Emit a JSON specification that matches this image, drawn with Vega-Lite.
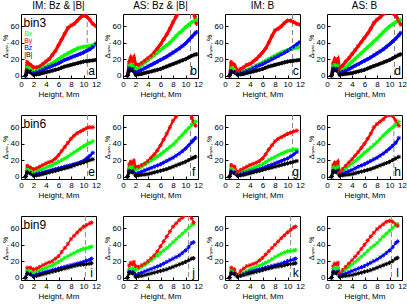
{
 "$schema": "https://vega.github.io/schema/vega-lite/v6.json",
 "padding": {"left": 0, "top": 1, "right": 0, "bottom": 0},
 "background": "white",
 "config": {
  "font": "Liberation Sans",
  "view": {"stroke": "black", "strokeWidth": 1},
  "axis": {"grid": false, "domain": false, "tickColor": "black", "labelColor": "black", "titleColor": "black", "labelFontSize": 8, "titleFontSize": 8, "titleFontWeight": "normal", "tickSize": -3, "labelPadding": 5, "titlePadding": 2, "labelOverlap": false, "labelFlush": false, "labelBound": false},
  "header": {"labelFontSize": 10, "labelColor": "black", "labelPadding": 3}
 },
 "datasets": {"d": [
  {"r":3,"c":1,"h":0.75,"bx":0,"by":0,"bz":0,"b":0},
  {"r":3,"c":1,"h":1,"bx":10,"by":16,"bz":6,"b":5},
  {"r":3,"c":1,"h":1.5,"bx":8,"by":13,"bz":5,"b":4},
  {"r":3,"c":1,"h":2,"bx":5,"by":10,"bz":3,"b":1},
  {"r":3,"c":1,"h":2.5,"bx":6,"by":10,"bz":4,"b":1.5},
  {"r":3,"c":1,"h":3,"bx":7,"by":11,"bz":5,"b":2},
  {"r":3,"c":1,"h":3.5,"bx":9,"by":14,"bz":7,"b":3},
  {"r":3,"c":1,"h":4,"bx":11,"by":17,"bz":9,"b":4},
  {"r":3,"c":1,"h":4.5,"bx":13,"by":20,"bz":10.5,"b":5},
  {"r":3,"c":1,"h":5,"bx":15,"by":25,"bz":12,"b":6},
  {"r":3,"c":1,"h":5.5,"bx":17.5,"by":30,"bz":13.5,"b":7},
  {"r":3,"c":1,"h":6,"bx":20,"by":37,"bz":15,"b":8},
  {"r":3,"c":1,"h":6.5,"bx":22.5,"by":44,"bz":17,"b":9.5},
  {"r":3,"c":1,"h":7,"bx":25,"by":51,"bz":19,"b":11},
  {"r":3,"c":1,"h":7.5,"bx":27,"by":58,"bz":20.5,"b":12},
  {"r":3,"c":1,"h":8,"bx":29,"by":61,"bz":22,"b":13},
  {"r":3,"c":1,"h":8.5,"bx":31,"by":63,"bz":23.5,"b":14},
  {"r":3,"c":1,"h":9,"bx":33,"by":67,"bz":25,"b":15},
  {"r":3,"c":1,"h":9.5,"bx":34,"by":71,"bz":26.5,"b":16},
  {"r":3,"c":1,"h":10,"bx":35,"by":73,"bz":28,"b":17},
  {"r":3,"c":1,"h":10.5,"bx":35.5,"by":72,"bz":30,"b":17.5},
  {"r":3,"c":1,"h":11,"bx":36,"by":68,"bz":32,"b":18},
  {"r":3,"c":1,"h":11.5,"bx":37,"by":63,"bz":35,"b":18.5},
  {"r":3,"c":1,"h":12,"bx":38,"by":60,"bz":39,"b":19},

  {"r":3,"c":2,"h":0.75,"bx":0,"by":0,"bz":0,"b":0},
  {"r":3,"c":2,"h":1,"bx":12,"by":17,"bz":9,"b":6},
  {"r":3,"c":2,"h":1.25,"bx":13,"by":22,"bz":9,"b":7},
  {"r":3,"c":2,"h":1.5,"bx":11,"by":18,"bz":8,"b":6},
  {"r":3,"c":2,"h":1.75,"bx":12,"by":22,"bz":8,"b":6},
  {"r":3,"c":2,"h":2,"bx":8,"by":14,"bz":4,"b":1},
  {"r":3,"c":2,"h":2.5,"bx":10,"by":13,"bz":5,"b":1.5},
  {"r":3,"c":2,"h":3,"bx":13,"by":15,"bz":7,"b":2},
  {"r":3,"c":2,"h":3.5,"bx":16,"by":18,"bz":9,"b":3},
  {"r":3,"c":2,"h":4,"bx":19,"by":21,"bz":11,"b":4},
  {"r":3,"c":2,"h":4.5,"bx":22,"by":24,"bz":13,"b":5},
  {"r":3,"c":2,"h":5,"bx":25,"by":28,"bz":15,"b":6},
  {"r":3,"c":2,"h":5.5,"bx":28,"by":33,"bz":17,"b":7},
  {"r":3,"c":2,"h":6,"bx":31,"by":38,"bz":19,"b":8},
  {"r":3,"c":2,"h":6.5,"bx":34,"by":44,"bz":21,"b":9.5},
  {"r":3,"c":2,"h":7,"bx":37,"by":50,"bz":23,"b":11},
  {"r":3,"c":2,"h":7.5,"bx":40,"by":57,"bz":25.5,"b":12.5},
  {"r":3,"c":2,"h":8,"bx":44,"by":65,"bz":28,"b":14},
  {"r":3,"c":2,"h":8.5,"bx":48,"by":72,"bz":30.5,"b":15.5},
  {"r":3,"c":2,"h":9,"bx":52,"by":78,"bz":33,"b":17},
  {"r":3,"c":2,"h":9.5,"bx":55,"by":83,"bz":36,"b":18.5},
  {"r":3,"c":2,"h":10,"bx":59,"by":86,"bz":39,"b":20},
  {"r":3,"c":2,"h":10.5,"bx":62,"by":85,"bz":43,"b":22},
  {"r":3,"c":2,"h":11,"bx":65,"by":82,"bz":47,"b":24},
  {"r":3,"c":2,"h":11.5,"bx":67,"by":72,"bz":51,"b":25.5},
  {"r":3,"c":2,"h":11.75,"bx":68,"by":63,"bz":53,"b":26},

  {"r":3,"c":3,"h":0.75,"bx":0,"by":0,"bz":0,"b":0},
  {"r":3,"c":3,"h":1,"bx":9,"by":16,"bz":5,"b":5},
  {"r":3,"c":3,"h":1.5,"bx":7,"by":13,"bz":4,"b":4},
  {"r":3,"c":3,"h":2,"bx":3,"by":5,"bz":2,"b":1},
  {"r":3,"c":3,"h":2.5,"bx":4,"by":8,"bz":3,"b":1.5},
  {"r":3,"c":3,"h":3,"bx":5,"by":10,"bz":4,"b":2},
  {"r":3,"c":3,"h":3.5,"bx":6.5,"by":13,"bz":5.5,"b":3},
  {"r":3,"c":3,"h":4,"bx":8,"by":14,"bz":7,"b":4},
  {"r":3,"c":3,"h":4.5,"bx":10,"by":17,"bz":9,"b":5},
  {"r":3,"c":3,"h":5,"bx":12,"by":20,"bz":11,"b":6},
  {"r":3,"c":3,"h":5.5,"bx":14,"by":24,"bz":12.5,"b":7},
  {"r":3,"c":3,"h":6,"bx":16,"by":28,"bz":14,"b":8},
  {"r":3,"c":3,"h":6.5,"bx":18,"by":33,"bz":16,"b":9.5},
  {"r":3,"c":3,"h":7,"bx":20,"by":40,"bz":18,"b":11},
  {"r":3,"c":3,"h":7.5,"bx":22,"by":48,"bz":20,"b":12},
  {"r":3,"c":3,"h":8,"bx":24,"by":55,"bz":22,"b":13},
  {"r":3,"c":3,"h":8.5,"bx":26,"by":57,"bz":24,"b":14},
  {"r":3,"c":3,"h":9,"bx":28,"by":60,"bz":26,"b":15},
  {"r":3,"c":3,"h":9.5,"bx":29.5,"by":64,"bz":28,"b":16},
  {"r":3,"c":3,"h":10,"bx":31,"by":67,"bz":30,"b":17},
  {"r":3,"c":3,"h":10.5,"bx":32,"by":67,"bz":32.5,"b":17.5},
  {"r":3,"c":3,"h":11,"bx":33,"by":65,"bz":35,"b":18},
  {"r":3,"c":3,"h":11.5,"bx":34,"by":63,"bz":38,"b":18.5},
  {"r":3,"c":3,"h":12,"bx":35,"by":62,"bz":41,"b":19},

  {"r":3,"c":4,"h":0.75,"bx":0,"by":0,"bz":0,"b":0},
  {"r":3,"c":4,"h":1,"bx":12,"by":15,"bz":8,"b":7},
  {"r":3,"c":4,"h":1.25,"bx":13,"by":20,"bz":9,"b":7},
  {"r":3,"c":4,"h":1.5,"bx":11,"by":17,"bz":8,"b":6},
  {"r":3,"c":4,"h":1.75,"bx":12,"by":20,"bz":8,"b":6},
  {"r":3,"c":4,"h":2,"bx":4,"by":8,"bz":3,"b":1},
  {"r":3,"c":4,"h":2.5,"bx":7,"by":12,"bz":4.5,"b":1.5},
  {"r":3,"c":4,"h":3,"bx":10,"by":17,"bz":6,"b":2},
  {"r":3,"c":4,"h":3.5,"bx":13.5,"by":21,"bz":8,"b":2.5},
  {"r":3,"c":4,"h":4,"bx":17,"by":26,"bz":10,"b":3},
  {"r":3,"c":4,"h":4.5,"bx":20.5,"by":31,"bz":12,"b":4},
  {"r":3,"c":4,"h":5,"bx":24,"by":36,"bz":14,"b":5},
  {"r":3,"c":4,"h":5.5,"bx":27.5,"by":41,"bz":16,"b":6},
  {"r":3,"c":4,"h":6,"bx":31,"by":46,"bz":18,"b":7},
  {"r":3,"c":4,"h":6.5,"bx":34.5,"by":51,"bz":20,"b":8.5},
  {"r":3,"c":4,"h":7,"bx":38,"by":57,"bz":22,"b":10},
  {"r":3,"c":4,"h":7.5,"bx":41.5,"by":64,"bz":24.5,"b":11.5},
  {"r":3,"c":4,"h":8,"bx":45,"by":68,"bz":27,"b":13},
  {"r":3,"c":4,"h":8.5,"bx":49,"by":71,"bz":29.5,"b":14.5},
  {"r":3,"c":4,"h":9,"bx":53,"by":75,"bz":32,"b":16},
  {"r":3,"c":4,"h":9.5,"bx":56.5,"by":77,"bz":35,"b":17.5},
  {"r":3,"c":4,"h":10,"bx":60,"by":78,"bz":38,"b":19},
  {"r":3,"c":4,"h":10.5,"bx":62.5,"by":76,"bz":41.5,"b":21},
  {"r":3,"c":4,"h":11,"bx":65,"by":73,"bz":45,"b":23},
  {"r":3,"c":4,"h":11.5,"bx":67,"by":67,"bz":49,"b":25},
  {"r":3,"c":4,"h":11.8,"bx":68,"by":62,"bz":52,"b":26},

  {"r":6,"c":1,"h":0.75,"bx":0,"by":0,"bz":0,"b":0},
  {"r":6,"c":1,"h":1,"bx":9,"by":13,"bz":5,"b":5},
  {"r":6,"c":1,"h":1.5,"bx":8,"by":11,"bz":4,"b":4},
  {"r":6,"c":1,"h":2,"bx":5,"by":9,"bz":2,"b":1},
  {"r":6,"c":1,"h":2.5,"bx":6.5,"by":10,"bz":3,"b":1.5},
  {"r":6,"c":1,"h":3,"bx":8,"by":12,"bz":4,"b":2},
  {"r":6,"c":1,"h":3.5,"bx":9.5,"by":14,"bz":5,"b":3},
  {"r":6,"c":1,"h":4,"bx":11,"by":16,"bz":6,"b":4},
  {"r":6,"c":1,"h":4.5,"bx":12.5,"by":17.5,"bz":7,"b":5},
  {"r":6,"c":1,"h":5,"bx":14,"by":19,"bz":8,"b":6},
  {"r":6,"c":1,"h":5.5,"bx":16,"by":22,"bz":9,"b":7},
  {"r":6,"c":1,"h":6,"bx":18,"by":26,"bz":10,"b":8},
  {"r":6,"c":1,"h":6.5,"bx":20,"by":31,"bz":11,"b":9},
  {"r":6,"c":1,"h":7,"bx":22,"by":36,"bz":12,"b":10},
  {"r":6,"c":1,"h":7.5,"bx":24.5,"by":41,"bz":13,"b":11},
  {"r":6,"c":1,"h":8,"bx":27,"by":46,"bz":14,"b":12},
  {"r":6,"c":1,"h":8.5,"bx":29.5,"by":50,"bz":15,"b":13.5},
  {"r":6,"c":1,"h":9,"bx":32,"by":53,"bz":16,"b":15},
  {"r":6,"c":1,"h":9.5,"bx":34.5,"by":55,"bz":17.5,"b":16},
  {"r":6,"c":1,"h":10,"bx":37,"by":57,"bz":19,"b":17},
  {"r":6,"c":1,"h":10.5,"bx":39,"by":59,"bz":22,"b":18.5},
  {"r":6,"c":1,"h":11,"bx":41,"by":60,"bz":25,"b":20},
  {"r":6,"c":1,"h":11.5,"bx":43,"by":60,"bz":29,"b":21},

  {"r":6,"c":2,"h":0.75,"bx":0,"by":0,"bz":0,"b":0},
  {"r":6,"c":2,"h":1,"bx":10,"by":15,"bz":7,"b":6},
  {"r":6,"c":2,"h":1.25,"bx":12,"by":18,"bz":7,"b":6},
  {"r":6,"c":2,"h":1.5,"bx":10,"by":15,"bz":6,"b":5},
  {"r":6,"c":2,"h":1.75,"bx":12,"by":19,"bz":7,"b":6},
  {"r":6,"c":2,"h":2,"bx":8,"by":12,"bz":3,"b":1},
  {"r":6,"c":2,"h":2.5,"bx":10,"by":12,"bz":4.5,"b":1.5},
  {"r":6,"c":2,"h":3,"bx":12,"by":14,"bz":6,"b":2},
  {"r":6,"c":2,"h":3.5,"bx":14.5,"by":16,"bz":7.5,"b":2.5},
  {"r":6,"c":2,"h":4,"bx":17,"by":19,"bz":9,"b":3},
  {"r":6,"c":2,"h":4.5,"bx":19.5,"by":23,"bz":10.5,"b":4},
  {"r":6,"c":2,"h":5,"bx":22,"by":27,"bz":12,"b":5},
  {"r":6,"c":2,"h":5.5,"bx":24.5,"by":32,"bz":13.5,"b":6},
  {"r":6,"c":2,"h":6,"bx":27,"by":38,"bz":15,"b":7},
  {"r":6,"c":2,"h":6.5,"bx":30,"by":45,"bz":17,"b":8},
  {"r":6,"c":2,"h":7,"bx":33,"by":52,"bz":19,"b":9},
  {"r":6,"c":2,"h":7.5,"bx":36,"by":60,"bz":21,"b":10.5},
  {"r":6,"c":2,"h":8,"bx":39,"by":68,"bz":23,"b":12},
  {"r":6,"c":2,"h":8.5,"bx":43,"by":73,"bz":25.5,"b":13.5},
  {"r":6,"c":2,"h":9,"bx":47,"by":78,"bz":28,"b":15},
  {"r":6,"c":2,"h":9.5,"bx":51,"by":82,"bz":31,"b":16.5},
  {"r":6,"c":2,"h":10,"bx":55,"by":85,"bz":34,"b":18},
  {"r":6,"c":2,"h":10.5,"bx":59,"by":82,"bz":38,"b":20},
  {"r":6,"c":2,"h":11,"bx":63,"by":72,"bz":42,"b":22},
  {"r":6,"c":2,"h":11.25,"bx":65,"by":67,"bz":44.5,"b":23},
  {"r":6,"c":2,"h":11.6,"bx":67,"by":62,"bz":47,"b":24},

  {"r":6,"c":3,"h":0.75,"bx":0,"by":0,"bz":0,"b":0},
  {"r":6,"c":3,"h":1,"bx":10,"by":14,"bz":6,"b":5},
  {"r":6,"c":3,"h":1.5,"bx":8,"by":12,"bz":5,"b":4},
  {"r":6,"c":3,"h":2,"bx":3,"by":5,"bz":1,"b":1},
  {"r":6,"c":3,"h":2.5,"bx":4.5,"by":8,"bz":2.5,"b":1.5},
  {"r":6,"c":3,"h":3,"bx":6,"by":10,"bz":4,"b":2},
  {"r":6,"c":3,"h":3.5,"bx":7.5,"by":12,"bz":5,"b":3},
  {"r":6,"c":3,"h":4,"bx":9,"by":14,"bz":6,"b":4},
  {"r":6,"c":3,"h":4.5,"bx":10.5,"by":15.5,"bz":7,"b":5},
  {"r":6,"c":3,"h":5,"bx":12,"by":17,"bz":8,"b":6},
  {"r":6,"c":3,"h":5.5,"bx":13.5,"by":19,"bz":9,"b":7},
  {"r":6,"c":3,"h":6,"bx":15,"by":22,"bz":10,"b":8},
  {"r":6,"c":3,"h":6.5,"bx":17.5,"by":27,"bz":11.5,"b":9},
  {"r":6,"c":3,"h":7,"bx":20,"by":33,"bz":13,"b":10},
  {"r":6,"c":3,"h":7.5,"bx":22,"by":38,"bz":14.5,"b":11},
  {"r":6,"c":3,"h":8,"bx":24,"by":43,"bz":16,"b":12},
  {"r":6,"c":3,"h":8.5,"bx":26,"by":46,"bz":17.5,"b":13},
  {"r":6,"c":3,"h":9,"bx":28,"by":48,"bz":19,"b":14},
  {"r":6,"c":3,"h":9.5,"bx":29.5,"by":50,"bz":20.5,"b":15},
  {"r":6,"c":3,"h":10,"bx":31,"by":52,"bz":22,"b":16},
  {"r":6,"c":3,"h":10.5,"bx":32,"by":53.5,"bz":24.5,"b":17},
  {"r":6,"c":3,"h":11,"bx":33,"by":55,"bz":27,"b":18},
  {"r":6,"c":3,"h":11.5,"bx":33,"by":56,"bz":30,"b":19},

  {"r":6,"c":4,"h":0.75,"bx":0,"by":0,"bz":0,"b":0},
  {"r":6,"c":4,"h":1,"bx":11,"by":14,"bz":7,"b":6},
  {"r":6,"c":4,"h":1.25,"bx":12,"by":17,"bz":7,"b":6},
  {"r":6,"c":4,"h":1.5,"bx":10,"by":14,"bz":6,"b":5},
  {"r":6,"c":4,"h":1.75,"bx":12,"by":18,"bz":7,"b":6},
  {"r":6,"c":4,"h":2,"bx":4,"by":5,"bz":2,"b":1},
  {"r":6,"c":4,"h":2.5,"bx":7,"by":9,"bz":3.5,"b":1.5},
  {"r":6,"c":4,"h":3,"bx":10,"by":13,"bz":5,"b":2},
  {"r":6,"c":4,"h":3.5,"bx":13,"by":17,"bz":6.5,"b":2.5},
  {"r":6,"c":4,"h":4,"bx":16,"by":21,"bz":8,"b":3},
  {"r":6,"c":4,"h":4.5,"bx":19,"by":25.5,"bz":10,"b":4},
  {"r":6,"c":4,"h":5,"bx":22,"by":30,"bz":12,"b":5},
  {"r":6,"c":4,"h":5.5,"bx":25.5,"by":35,"bz":13.5,"b":6},
  {"r":6,"c":4,"h":6,"bx":29,"by":40,"bz":15,"b":7},
  {"r":6,"c":4,"h":6.5,"bx":32,"by":46,"bz":17,"b":8},
  {"r":6,"c":4,"h":7,"bx":35,"by":52,"bz":19,"b":9},
  {"r":6,"c":4,"h":7.5,"bx":38.5,"by":60,"bz":21,"b":10.5},
  {"r":6,"c":4,"h":8,"bx":42,"by":64,"bz":23,"b":12},
  {"r":6,"c":4,"h":8.5,"bx":46,"by":67,"bz":25.5,"b":13.5},
  {"r":6,"c":4,"h":9,"bx":50,"by":70,"bz":28,"b":15},
  {"r":6,"c":4,"h":9.5,"bx":53.5,"by":74,"bz":31,"b":16.5},
  {"r":6,"c":4,"h":10,"bx":57,"by":75,"bz":34,"b":18},
  {"r":6,"c":4,"h":10.5,"bx":60,"by":74,"bz":37.5,"b":20},
  {"r":6,"c":4,"h":11,"bx":63,"by":68,"bz":41,"b":22},
  {"r":6,"c":4,"h":11.5,"bx":67,"by":62,"bz":47,"b":24},

  {"r":9,"c":1,"h":0.75,"bx":0,"by":0,"bz":0,"b":0},
  {"r":9,"c":1,"h":1,"bx":9,"by":12,"bz":5,"b":5},
  {"r":9,"c":1,"h":1.5,"bx":8,"by":12,"bz":4,"b":4},
  {"r":9,"c":1,"h":2,"bx":6,"by":10,"bz":2,"b":1},
  {"r":9,"c":1,"h":2.5,"bx":7.5,"by":11,"bz":3.5,"b":2},
  {"r":9,"c":1,"h":3,"bx":9,"by":13,"bz":5,"b":3},
  {"r":9,"c":1,"h":3.5,"bx":10.5,"by":15,"bz":6,"b":4},
  {"r":9,"c":1,"h":4,"bx":12,"by":17,"bz":7,"b":5},
  {"r":9,"c":1,"h":4.5,"bx":13.5,"by":18.5,"bz":8,"b":6},
  {"r":9,"c":1,"h":5,"bx":15,"by":20,"bz":9,"b":7},
  {"r":9,"c":1,"h":5.5,"bx":17,"by":23,"bz":10,"b":8},
  {"r":9,"c":1,"h":6,"bx":19,"by":26,"bz":11,"b":9},
  {"r":9,"c":1,"h":6.5,"bx":21.5,"by":31,"bz":12,"b":10},
  {"r":9,"c":1,"h":7,"bx":24,"by":36,"bz":13,"b":11},
  {"r":9,"c":1,"h":7.5,"bx":26,"by":41,"bz":14,"b":12},
  {"r":9,"c":1,"h":8,"bx":28,"by":47,"bz":15,"b":13},
  {"r":9,"c":1,"h":8.5,"bx":30,"by":51,"bz":16,"b":14},
  {"r":9,"c":1,"h":9,"bx":32,"by":55,"bz":17,"b":15},
  {"r":9,"c":1,"h":9.5,"bx":33.5,"by":58.5,"bz":18,"b":15.5},
  {"r":9,"c":1,"h":10,"bx":35,"by":62,"bz":19,"b":16},
  {"r":9,"c":1,"h":10.5,"bx":36,"by":64,"bz":20.5,"b":16.5},
  {"r":9,"c":1,"h":11,"bx":37,"by":66,"bz":21.5,"b":17},
  {"r":9,"c":1,"h":11.3,"bx":37.5,"by":67,"bz":23,"b":17.5},

  {"r":9,"c":2,"h":0.75,"bx":0,"by":0,"bz":0,"b":0},
  {"r":9,"c":2,"h":1,"bx":10,"by":15,"bz":7,"b":6},
  {"r":9,"c":2,"h":1.25,"bx":11,"by":18,"bz":7,"b":6},
  {"r":9,"c":2,"h":1.5,"bx":10,"by":16,"bz":6,"b":5},
  {"r":9,"c":2,"h":1.75,"bx":11,"by":19,"bz":7,"b":6},
  {"r":9,"c":2,"h":2,"bx":9,"by":14,"bz":3,"b":1},
  {"r":9,"c":2,"h":2.5,"bx":11,"by":13,"bz":4.5,"b":1.5},
  {"r":9,"c":2,"h":3,"bx":13,"by":15,"bz":6,"b":2},
  {"r":9,"c":2,"h":3.5,"bx":15.5,"by":17,"bz":7.5,"b":3},
  {"r":9,"c":2,"h":4,"bx":18,"by":20,"bz":9,"b":4},
  {"r":9,"c":2,"h":4.5,"bx":21,"by":23.5,"bz":10.5,"b":5},
  {"r":9,"c":2,"h":5,"bx":24,"by":27,"bz":12,"b":6},
  {"r":9,"c":2,"h":5.5,"bx":27,"by":32,"bz":13.5,"b":7},
  {"r":9,"c":2,"h":6,"bx":30,"by":38,"bz":15,"b":8},
  {"r":9,"c":2,"h":6.5,"bx":33,"by":44,"bz":17,"b":9},
  {"r":9,"c":2,"h":7,"bx":36,"by":50,"bz":19,"b":10},
  {"r":9,"c":2,"h":7.5,"bx":39.5,"by":56,"bz":21,"b":11.5},
  {"r":9,"c":2,"h":8,"bx":43,"by":62,"bz":23,"b":13},
  {"r":9,"c":2,"h":8.5,"bx":46.5,"by":66,"bz":25,"b":14.5},
  {"r":9,"c":2,"h":9,"bx":50,"by":70,"bz":27,"b":16},
  {"r":9,"c":2,"h":9.5,"bx":53.5,"by":73,"bz":30,"b":17.5},
  {"r":9,"c":2,"h":10,"bx":57,"by":76,"bz":33,"b":19},
  {"r":9,"c":2,"h":10.5,"bx":60.5,"by":78,"bz":37,"b":21},
  {"r":9,"c":2,"h":11,"bx":64,"by":72,"bz":42,"b":23},
  {"r":9,"c":2,"h":11.3,"bx":65,"by":67,"bz":43,"b":23.5},

  {"r":9,"c":3,"h":0.75,"bx":0,"by":0,"bz":0,"b":0},
  {"r":9,"c":3,"h":1,"bx":9,"by":12,"bz":6,"b":5},
  {"r":9,"c":3,"h":1.5,"bx":7,"by":10,"bz":5,"b":4},
  {"r":9,"c":3,"h":2,"bx":2,"by":3,"bz":1,"b":1},
  {"r":9,"c":3,"h":2.5,"bx":4,"by":8,"bz":2.5,"b":2},
  {"r":9,"c":3,"h":3,"bx":6,"by":11,"bz":4,"b":3},
  {"r":9,"c":3,"h":3.5,"bx":8,"by":14,"bz":5.5,"b":4},
  {"r":9,"c":3,"h":4,"bx":10,"by":15,"bz":7,"b":5},
  {"r":9,"c":3,"h":4.5,"bx":11.5,"by":16.5,"bz":8,"b":6},
  {"r":9,"c":3,"h":5,"bx":13,"by":18,"bz":9,"b":7},
  {"r":9,"c":3,"h":5.5,"bx":14.5,"by":21,"bz":10,"b":8},
  {"r":9,"c":3,"h":6,"bx":16,"by":24,"bz":11,"b":9},
  {"r":9,"c":3,"h":6.5,"bx":18,"by":28,"bz":12,"b":10},
  {"r":9,"c":3,"h":7,"bx":20,"by":32,"bz":13,"b":11},
  {"r":9,"c":3,"h":7.5,"bx":22.5,"by":36,"bz":14,"b":12},
  {"r":9,"c":3,"h":8,"bx":25,"by":40,"bz":15,"b":13},
  {"r":9,"c":3,"h":8.5,"bx":27,"by":44,"bz":16,"b":13.5},
  {"r":9,"c":3,"h":9,"bx":29,"by":48,"bz":17,"b":14},
  {"r":9,"c":3,"h":9.5,"bx":30.5,"by":51.5,"bz":18.5,"b":15},
  {"r":9,"c":3,"h":10,"bx":32,"by":55,"bz":20,"b":16},
  {"r":9,"c":3,"h":10.5,"bx":32.5,"by":58,"bz":21,"b":16.5},
  {"r":9,"c":3,"h":11,"bx":33,"by":61,"bz":22,"b":17},
  {"r":9,"c":3,"h":11.3,"bx":33.5,"by":62,"bz":23,"b":17.5},

  {"r":9,"c":4,"h":0.75,"bx":0,"by":0,"bz":0,"b":0},
  {"r":9,"c":4,"h":1,"bx":11,"by":14,"bz":7,"b":6},
  {"r":9,"c":4,"h":1.25,"bx":12,"by":17,"bz":7,"b":6},
  {"r":9,"c":4,"h":1.5,"bx":10,"by":16,"bz":6,"b":5},
  {"r":9,"c":4,"h":1.75,"bx":12,"by":18,"bz":7,"b":6},
  {"r":9,"c":4,"h":2,"bx":4,"by":5,"bz":2,"b":1},
  {"r":9,"c":4,"h":2.5,"bx":7,"by":9,"bz":3.5,"b":1.5},
  {"r":9,"c":4,"h":3,"bx":10,"by":13,"bz":5,"b":2},
  {"r":9,"c":4,"h":3.5,"bx":13,"by":17,"bz":6.5,"b":2.5},
  {"r":9,"c":4,"h":4,"bx":16,"by":21,"bz":8,"b":3},
  {"r":9,"c":4,"h":4.5,"bx":19,"by":25.5,"bz":9.5,"b":4},
  {"r":9,"c":4,"h":5,"bx":22,"by":30,"bz":11,"b":5},
  {"r":9,"c":4,"h":5.5,"bx":25.5,"by":35,"bz":12.5,"b":6},
  {"r":9,"c":4,"h":6,"bx":29,"by":40,"bz":14,"b":7},
  {"r":9,"c":4,"h":6.5,"bx":32.5,"by":45,"bz":16,"b":8},
  {"r":9,"c":4,"h":7,"bx":36,"by":50,"bz":18,"b":9},
  {"r":9,"c":4,"h":7.5,"bx":39,"by":54.5,"bz":20,"b":10.5},
  {"r":9,"c":4,"h":8,"bx":42,"by":59,"bz":22,"b":12},
  {"r":9,"c":4,"h":8.5,"bx":46,"by":62,"bz":24.5,"b":13.5},
  {"r":9,"c":4,"h":9,"bx":50,"by":65,"bz":27,"b":15},
  {"r":9,"c":4,"h":9.5,"bx":53.5,"by":68,"bz":30,"b":16.5},
  {"r":9,"c":4,"h":10,"bx":57,"by":69,"bz":33,"b":18},
  {"r":9,"c":4,"h":10.5,"bx":60.5,"by":68,"bz":37,"b":20},
  {"r":9,"c":4,"h":11,"bx":64,"by":65,"bz":42,"b":23},
  {"r":9,"c":4,"h":11.3,"bx":65,"by":63,"bz":44,"b":24},

  {"r":3,"c":1,"k":"d","h":10.6},{"r":3,"c":2,"k":"d","h":10.8},{"r":3,"c":3,"k":"d","h":10.8},{"r":3,"c":4,"k":"d","h":10.8},
  {"r":6,"c":1,"k":"d","h":10.65},{"r":6,"c":2,"k":"d","h":10.8},{"r":6,"c":3,"k":"d","h":10.8},{"r":6,"c":4,"k":"d","h":10.7},
  {"r":9,"c":1,"k":"d","h":10.3},{"r":9,"c":2,"k":"d","h":10.5},{"r":9,"c":3,"k":"d","h":10.5},{"r":9,"c":4,"k":"d","h":10.3},
  {"r":3,"c":1,"k":"l","t":"a"},{"r":3,"c":2,"k":"l","t":"b"},{"r":3,"c":3,"k":"l","t":"c"},{"r":3,"c":4,"k":"l","t":"d"},
  {"r":6,"c":1,"k":"l","t":"e"},{"r":6,"c":2,"k":"l","t":"f"},{"r":6,"c":3,"k":"l","t":"g"},{"r":6,"c":4,"k":"l","t":"h"},
  {"r":9,"c":1,"k":"l","t":"i"},{"r":9,"c":2,"k":"l","t":"j"},{"r":9,"c":3,"k":"l","t":"k"},{"r":9,"c":4,"k":"l","t":"l"},
  {"r":3,"c":1,"k":"b","t":"bin3"},{"r":6,"c":1,"k":"b","t":"bin6"},{"r":9,"c":1,"k":"b","t":"bin9"},
  {"r":3,"c":1,"k":"g"}
 ]},
 "data": {"name": "d"},
 "facet": {
  "row": {"field": "r", "type": "ordinal", "header": null, "title": null},
  "column": {"field": "c", "type": "ordinal", "title": null, "header": {"labelExpr": "['IM: Bz & |B|','AS: Bz & |B|','IM: B','AS: B'][+datum.value-1]"}}
 },
 "spacing": {"row": 37, "column": 27},
 "bounds": "flush",
 "resolve": {"axis": {"x": "independent", "y": "independent"}},
 "spec": {
  "width": 75,
  "height": 64,
  "layer": [
   {
    "transform": [{"filter": "datum.k == 'd'"}],
    "mark": {"type": "rule", "color": "#888888", "strokeDash": [5, 3], "strokeWidth": 1},
    "encoding": {"x": {"field": "h", "type": "quantitative", "title": "Height, Mm", "scale": {"domain": [0, 12], "nice": false}, "axis": {"tickCount": 6, "labelOverlap": false}}}
   },
   {
    "transform": [{"filter": "!datum.k"}, {"fold": ["bx", "by", "bz", "b"], "as": ["s", "v"]}],
    "mark": {"type": "line", "clip": true},
    "encoding": {
     "x": {"field": "h", "type": "quantitative", "title": "Height, Mm", "scale": {"domain": [0, 12], "nice": false}, "axis": {"tickCount": 6, "labelOverlap": false}},
     "y": {"field": "v", "type": "quantitative", "title": "Δₘₐₓ, %", "scale": {"domain": [-3, 75], "nice": false}, "axis": {"tickCount": 4, "titleFontSize": 7, "labelOverlap": false}},
     "color": {"field": "s", "type": "nominal", "scale": {"domain": ["bx", "by", "bz", "b"], "range": ["#00ff00", "#ff0000", "#0000ff", "#000000"]}, "legend": null},
     "strokeWidth": {"field": "r", "type": "ordinal", "scale": {"domain": [3, 6, 9], "range": [3.2, 1.5, 1.5]}, "legend": null}
    }
   },
   {
    "transform": [{"filter": "!datum.k"}, {"fold": ["bx", "by", "bz", "b"], "as": ["s", "v"]}],
    "mark": {"type": "point", "clip": true, "filled": false, "opacity": 1, "strokeWidth": 1, "size": 18, "shape": "M-1,0L1,0M0,-1L0,1M-0.7,-0.7L0.7,0.7M-0.7,0.7L0.7,-0.7"},
    "encoding": {
     "x": {"field": "h", "type": "quantitative", "title": "Height, Mm", "scale": {"domain": [0, 12], "nice": false}, "axis": {"tickCount": 6, "labelOverlap": false}},
     "y": {"field": "v", "type": "quantitative", "title": "Δₘₐₓ, %", "scale": {"domain": [-3, 75], "nice": false}, "axis": {"tickCount": 4, "titleFontSize": 7, "labelOverlap": false}},
     "color": {"field": "s", "type": "nominal", "scale": {"domain": ["bx", "by", "bz", "b"], "range": ["#00ff00", "#ff0000", "#0000ff", "#000000"]}, "legend": null}
    }
   },
   {
    "transform": [{"filter": "datum.k == 'l'"}],
    "mark": {"type": "text", "fontSize": 12, "color": "black", "align": "center", "baseline": "middle"},
    "encoding": {"x": {"datum": 11.3}, "y": {"datum": 5}, "text": {"field": "t"}}
   },
   {
    "transform": [{"filter": "datum.k == 'b'"}],
    "mark": {"type": "text", "fontSize": 12, "color": "black", "align": "left", "baseline": "middle"},
    "encoding": {"x": {"datum": 0.4}, "y": {"datum": 64}, "text": {"field": "t"}}
   },
   {
    "transform": [{"filter": "datum.k == 'g'"}],
    "mark": {"type": "text", "fontSize": 7, "color": "#00ff00", "align": "left", "baseline": "middle", "text": "Bx"},
    "encoding": {"x": {"datum": 0.5}, "y": {"datum": 50.5}}
   },
   {
    "transform": [{"filter": "datum.k == 'g'"}],
    "mark": {"type": "text", "fontSize": 7, "color": "#ff0000", "align": "left", "baseline": "middle", "text": "By"},
    "encoding": {"x": {"datum": 0.5}, "y": {"datum": 42}}
   },
   {
    "transform": [{"filter": "datum.k == 'g'"}],
    "mark": {"type": "text", "fontSize": 7, "color": "#0000ff", "align": "left", "baseline": "middle", "text": "Bz"},
    "encoding": {"x": {"datum": 0.5}, "y": {"datum": 33.5}}
   },
   {
    "transform": [{"filter": "datum.k == 'g'"}],
    "mark": {"type": "text", "fontSize": 7, "color": "#000000", "align": "left", "baseline": "middle", "text": "|B|"},
    "encoding": {"x": {"datum": 0.5}, "y": {"datum": 25}}
   }
  ]
 }
}
